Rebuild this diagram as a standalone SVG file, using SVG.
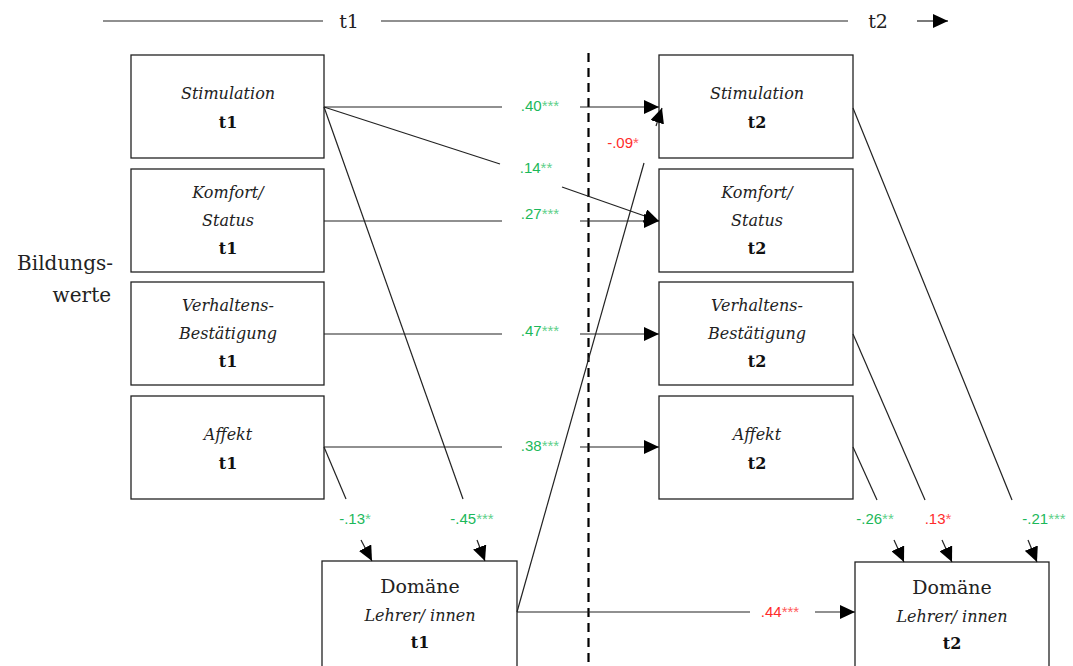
<svg xmlns="http://www.w3.org/2000/svg" width="1073" height="666" viewBox="0 0 1073 666">
<defs>
<marker id="ah" markerUnits="userSpaceOnUse" markerWidth="16" markerHeight="14" refX="15" refY="7" orient="auto">
<path d="M0,0 L15,7 L0,14 Z" fill="#000"/>
</marker>
<style>
.box{fill:#fff;stroke:#222;stroke-width:1.3}
.it{font-style:italic;font-size:16px;fill:#222;text-anchor:middle}
.bd{font-weight:bold;font-size:16px;fill:#111;text-anchor:middle}
.rg{font-size:19px;fill:#222;text-anchor:middle}
.ln{stroke:#222;stroke-width:1.2;fill:none}
.ar{stroke:#222;stroke-width:1.2;fill:none;marker-end:url(#ah)}
.g{font-size:15px;fill:#1cb85a;text-anchor:middle}
.r{font-size:15px;fill:#ff2b2b;text-anchor:middle}
.gs{fill:#5fd08a}
.rs{fill:#ff5a5a}
</style>
</defs>
<g id="timeline">
<line x1="103" y1="21" x2="323" y2="21" class="ln" stroke="#555"/>
<text x="349" y="28" class="rg" font-family="DejaVu Serif,serif" font-size="20">t1</text>
<line x1="381" y1="21" x2="848" y2="21" class="ln" stroke="#555"/>
<text x="878" y="28" class="rg" font-family="DejaVu Serif,serif" font-size="20">t2</text>
<line x1="917" y1="21" x2="948" y2="21" class="ar"/>
</g>
<line id="divider" x1="588.5" y1="53" x2="588.5" y2="666" stroke="#000" stroke-width="2.2" stroke-dasharray="9,6"/>
<g id="label-bildungswerte">
<text x="113" y="270" font-family="DejaVu Serif,serif" font-size="20" fill="#222" text-anchor="end">Bildungs-</text>
<text x="111" y="302" font-family="DejaVu Serif,serif" font-size="20" fill="#222" text-anchor="end">werte</text>
</g>
<g id="stim1"><rect x="131" y="55" width="193" height="103" class="box"/><text x="228" y="99" class="it" font-family="DejaVu Serif,serif">Stimulation</text><text x="228" y="128" class="bd" font-family="DejaVu Serif,serif">t1</text></g>
<g id="komf1"><rect x="131" y="169" width="193" height="103" class="box"/><text x="228" y="198" class="it" font-family="DejaVu Serif,serif">Komfort/</text><text x="228" y="226" class="it" font-family="DejaVu Serif,serif">Status</text><text x="228" y="254" class="bd" font-family="DejaVu Serif,serif">t1</text></g>
<g id="verh1"><rect x="131" y="282" width="193" height="103" class="box"/><text x="228" y="311" class="it" font-family="DejaVu Serif,serif">Verhaltens-</text><text x="228" y="339" class="it" font-family="DejaVu Serif,serif">Bestätigung</text><text x="228" y="367" class="bd" font-family="DejaVu Serif,serif">t1</text></g>
<g id="aff1"><rect x="131" y="396" width="193" height="103" class="box"/><text x="228" y="440" class="it" font-family="DejaVu Serif,serif">Affekt</text><text x="228" y="469" class="bd" font-family="DejaVu Serif,serif">t1</text></g>
<g id="stim2"><rect x="659" y="55" width="194" height="103" class="box"/><text x="757" y="99" class="it" font-family="DejaVu Serif,serif">Stimulation</text><text x="757" y="128" class="bd" font-family="DejaVu Serif,serif">t2</text></g>
<g id="komf2"><rect x="659" y="169" width="194" height="103" class="box"/><text x="757" y="198" class="it" font-family="DejaVu Serif,serif">Komfort/</text><text x="757" y="226" class="it" font-family="DejaVu Serif,serif">Status</text><text x="757" y="254" class="bd" font-family="DejaVu Serif,serif">t2</text></g>
<g id="verh2"><rect x="659" y="282" width="194" height="103" class="box"/><text x="757" y="311" class="it" font-family="DejaVu Serif,serif">Verhaltens-</text><text x="757" y="339" class="it" font-family="DejaVu Serif,serif">Bestätigung</text><text x="757" y="367" class="bd" font-family="DejaVu Serif,serif">t2</text></g>
<g id="aff2"><rect x="659" y="396" width="194" height="103" class="box"/><text x="757" y="440" class="it" font-family="DejaVu Serif,serif">Affekt</text><text x="757" y="469" class="bd" font-family="DejaVu Serif,serif">t2</text></g>
<g id="dom1"><rect x="322" y="561" width="195" height="110" class="box"/><text x="420" y="593" class="rg" font-family="DejaVu Serif,serif">Domäne</text><text x="420" y="621" class="it" font-family="DejaVu Serif,serif">Lehrer/ innen</text><text x="420" y="648" class="bd" font-family="DejaVu Serif,serif">t1</text></g>
<g id="dom2"><rect x="855" y="562" width="194" height="110" class="box"/><text x="952" y="594" class="rg" font-family="DejaVu Serif,serif">Domäne</text><text x="952" y="622" class="it" font-family="DejaVu Serif,serif">Lehrer/ innen</text><text x="952" y="649" class="bd" font-family="DejaVu Serif,serif">t2</text></g>
<g id="connectors">
<line x1="324" y1="107" x2="502" y2="107" class="ln"/><line x1="580" y1="107" x2="659" y2="107" class="ar"/>
<line x1="324" y1="107" x2="500" y2="164" class="ln"/><line x1="562" y1="187" x2="659" y2="221" class="ar"/>
<line x1="324" y1="221" x2="502" y2="221" class="ln"/><line x1="580" y1="221" x2="659" y2="221" class="ar"/>
<line x1="324" y1="334" x2="502" y2="334" class="ln"/><line x1="580" y1="334" x2="659" y2="334" class="ar"/>
<line x1="324" y1="447" x2="502" y2="447" class="ln"/><line x1="580" y1="447" x2="659" y2="447" class="ar"/>
<line x1="324" y1="107" x2="463" y2="499" class="ln"/><line x1="477" y1="540" x2="485" y2="561" class="ar"/>
<line x1="324" y1="447" x2="346" y2="499" class="ln"/><line x1="361" y1="540" x2="372" y2="561" class="ar"/>
<line x1="517" y1="612" x2="644" y2="163" class="ln"/><line x1="656" y1="126" x2="662" y2="108" class="ar"/>
<line x1="517" y1="612" x2="750" y2="612" class="ln"/><line x1="815" y1="612" x2="855" y2="612" class="ar"/>
<line x1="853" y1="447" x2="877" y2="500" class="ln"/><line x1="894" y1="540" x2="904" y2="562" class="ar"/>
<line x1="853" y1="334" x2="925" y2="500" class="ln"/><line x1="942" y1="540" x2="952" y2="562" class="ar"/>
<line x1="853" y1="108" x2="1012" y2="500" class="ln"/><line x1="1028" y1="540" x2="1037" y2="562" class="ar"/>
</g>
<g id="labels">
<text x="540" y="111" class="g" font-family="Liberation Sans,sans-serif">.40<tspan class="gs">***</tspan></text>
<text x="536" y="173" class="g" font-family="Liberation Sans,sans-serif">.14<tspan class="gs">**</tspan></text>
<text x="540" y="219" class="g" font-family="Liberation Sans,sans-serif">.27<tspan class="gs">***</tspan></text>
<text x="540" y="336" class="g" font-family="Liberation Sans,sans-serif">.47<tspan class="gs">***</tspan></text>
<text x="540" y="451" class="g" font-family="Liberation Sans,sans-serif">.38<tspan class="gs">***</tspan></text>
<text x="623" y="148" class="r" font-family="Liberation Sans,sans-serif">-.09<tspan class="rs">*</tspan></text>
<text x="355" y="524" class="g" font-family="Liberation Sans,sans-serif">-.13<tspan class="gs">*</tspan></text>
<text x="472" y="524" class="g" font-family="Liberation Sans,sans-serif">-.45<tspan class="gs">***</tspan></text>
<text x="780" y="617" class="r" font-family="Liberation Sans,sans-serif">.44<tspan class="rs">***</tspan></text>
<text x="875" y="524" class="g" font-family="Liberation Sans,sans-serif">-.26<tspan class="gs">**</tspan></text>
<text x="938" y="524" class="r" font-family="Liberation Sans,sans-serif">.13<tspan class="rs">*</tspan></text>
<text x="1044" y="524" class="g" font-family="Liberation Sans,sans-serif">-.21<tspan class="gs">***</tspan></text>
</g>
</svg>
